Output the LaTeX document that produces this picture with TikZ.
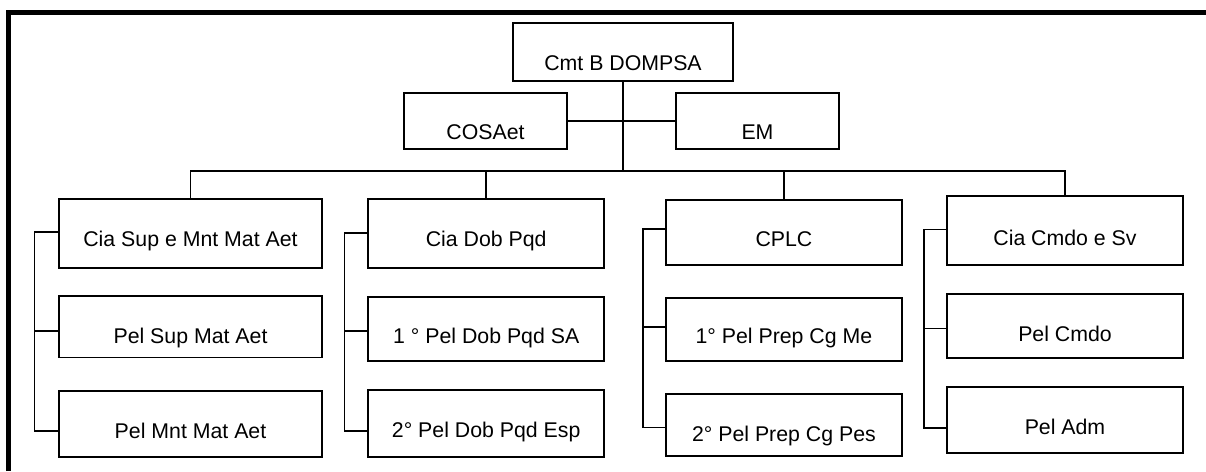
\documentclass[tikz,border=0pt]{standalone}
\usepackage{fontspec}
\setmainfont{Liberation Sans}
\newcommand\lowtxt[2]{\raisebox{-#1pt}[0pt][0pt]{#2}}
\begin{document}
\begin{tikzpicture}[x=1pt,y=-1pt,
  box/.style={draw, line width=1.8pt, rectangle, inner sep=0pt,
    font=\fontsize{21.3}{25}\selectfont},
  conn/.style={line width=1.6pt},
  frame/.style={line width=5pt}]
\useasboundingbox (0,0) rectangle (1206,471);
% outer frame
\draw[frame] (8.5,471) -- (8.5,12.5) -- (1206,12.5);
% top level
\node[box, minimum width=220pt, minimum height=58pt] (cmt) at (623,52) {\lowtxt{18}{Cmt B DOMPSA}};
\node[box, minimum width=163pt, minimum height=56pt] (cosa) at (485.5,120.8) {\lowtxt{18.5}{COSAet}};
\node[box, minimum width=163pt, minimum height=56pt] (em) at (757.5,120.8) {\lowtxt{18.5}{EM}};
% column 1
\node[box, minimum width=262.4pt, minimum height=68.4pt] (c1a) at (190.5,233.5) {\lowtxt{13.2}{Cia Sup e Mnt Mat Aet}};
\node[box, minimum width=262.4pt, minimum height=61.5pt] (c1b) at (190.5,326.7) {\lowtxt{16.6}{Pel Sup Mat Aet}};
\node[box, minimum width=262.4pt, minimum height=66pt] (c1c) at (190.5,423.7) {\lowtxt{14.6}{Pel Mnt Mat Aet}};
% column 2
\node[box, minimum width=235.7pt, minimum height=68.4pt] (c2a) at (486.2,233.5) {\lowtxt{13.2}{Cia Dob Pqd}};
\node[box, minimum width=235.7pt, minimum height=64pt] (c2b) at (486.2,328.7) {\lowtxt{14.6}{1 ° Pel Dob Pqd SA}};
\node[box, minimum width=235.7pt, minimum height=66.7pt] (c2c) at (486.2,423.3) {\lowtxt{14.4}{2° Pel Dob Pqd Esp}};
% column 3
\node[box, minimum width=235.7pt, minimum height=65pt] (c3a) at (783.9,232.5) {\lowtxt{14.2}{CPLC}};
\node[box, minimum width=235.7pt, minimum height=63.3pt] (c3b) at (783.9,329.3) {\lowtxt{14}{1° Pel Prep Cg Me}};
\node[box, minimum width=235.7pt, minimum height=61.7pt] (c3c) at (783.9,425.2) {\lowtxt{15.8}{2° Pel Prep Cg Pes}};
% column 4
\node[box, minimum width=236.6pt, minimum height=69pt] (c4a) at (1065,230.5) {\lowtxt{14.5}{Cia Cmdo e Sv}};
\node[box, minimum width=236.6pt, minimum height=63.7pt] (c4b) at (1065,325.9) {\lowtxt{15.2}{Pel Cmdo}};
\node[box, minimum width=236.6pt, minimum height=66pt] (c4c) at (1065,420.3) {\lowtxt{13.7}{Pel Adm}};
% top connectors
\coordinate (bus) at (623,171);
\draw[conn] (cmt.south) -- (cmt.south |- bus);
\draw[conn] (cosa.east) -- (em.west);
\draw[conn] (c1a.north) -- (c1a.north |- bus) -- (c4a.north |- bus) -- (c4a.north);
\draw[conn] (c2a.north) -- (c2a.north |- bus);
\draw[conn] (c3a.north) -- (c3a.north |- bus);
% brackets
\coordinate (k1a) at (34.3,231.7);  \coordinate (k1b) at (34.3,330.7);  \coordinate (k1c) at (34.3,430.7);
\coordinate (k2a) at (344.3,232.7); \coordinate (k2b) at (344.3,330.7); \coordinate (k2c) at (344.3,430.7);
\coordinate (k3a) at (642.7,229);   \coordinate (k3b) at (642.7,326.7); \coordinate (k3c) at (642.7,427.3);
\coordinate (k4a) at (924,229.3);   \coordinate (k4b) at (924,328.3);   \coordinate (k4c) at (924,427.7);
\foreach \c in {1,2,3,4}{
  \draw[conn] (k\c a -| c\c a.west) -- (k\c a) -- (k\c c) -- (k\c c -| c\c c.west);
  \draw[conn] (k\c b) -- (k\c b -| c\c b.west);
}
\end{tikzpicture}
\end{document}
